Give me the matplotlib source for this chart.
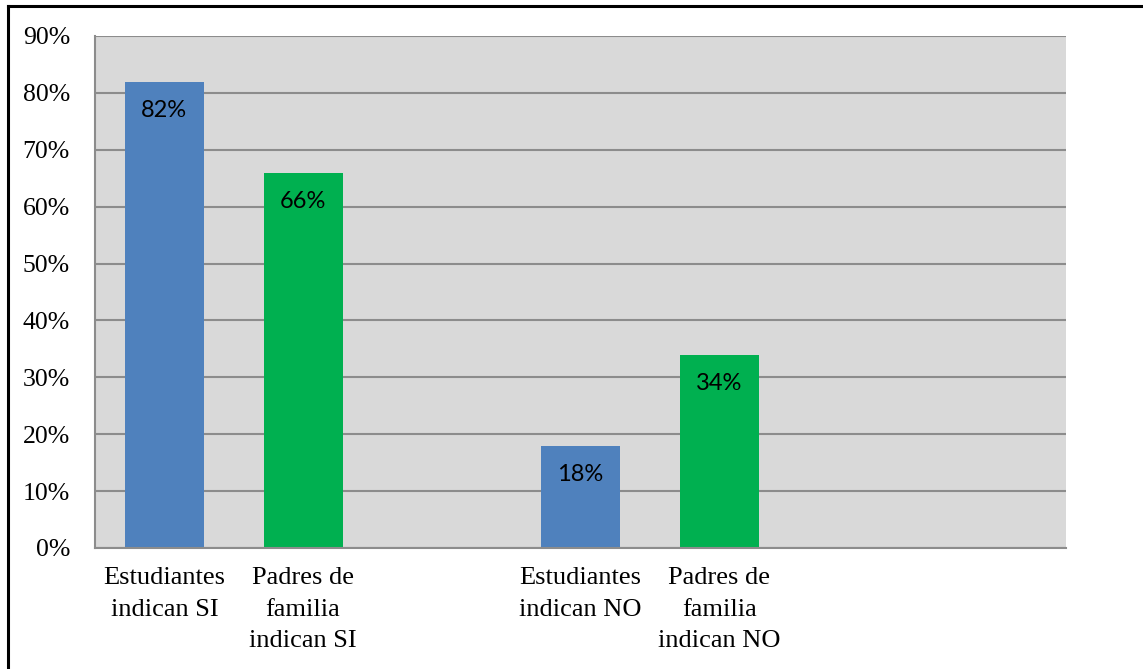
import numpy as np
import matplotlib.pyplot as plt
from matplotlib.lines import Line2D

categories = ["Estudiantes\nindican SI", "Padres de\nfamilia\nindican SI", "",
              "Estudiantes\nindican NO", "Padres de\nfamilia\nindican NO", "", ""]
values = [82, 66, 0, 18, 34, 0, 0]
bar_colors = ["#4F81BD", "#00B050", "#4F81BD", "#4F81BD", "#00B050", "#4F81BD", "#4F81BD"]
yticks = [0, 10, 20, 30, 40, 50, 60, 70, 80, 90]

fig = plt.figure(figsize=(11.43, 6.69), dpi=100)
ax = fig.add_axes([95 / 1143, 1 - 548 / 669, 971 / 1143, 512 / 669])

x = np.arange(len(categories))
ax.set_facecolor("#D9D9D9")
ax.set_axisbelow(True)
ax.yaxis.grid(True, color="#8C8C8C", linewidth=1.5)

bars = ax.bar(x, values, width=0.57, color=bar_colors, zorder=2)

for i, v in enumerate(values):
    if v > 0:
        ax.annotate(f"{v}%", xy=(x[i], v), xytext=(0, -21), textcoords="offset points",
                    ha="center", va="center", fontsize=17, family="Lato", color="black")

ax.set_xlim(-0.5, len(categories) - 0.5)
ax.set_ylim(0, 90)
ax.set_yticks(yticks)
ax.set_yticklabels([f"{t}%" for t in yticks], family="Liberation Serif", fontsize=18.5)
ax.set_xticks(x)
ax.set_xticklabels(categories, family="Liberation Serif", fontsize=19, linespacing=1.55)
ax.tick_params(axis="y", length=0, pad=18)
ax.tick_params(axis="x", length=0, pad=14)

for side in ["top", "right"]:
    ax.spines[side].set_visible(False)
for side in ["left", "bottom"]:
    ax.spines[side].set_color("#8C8C8C")
    ax.spines[side].set_linewidth(1.5)

# outer frame (left and top edges only visible)
fig.add_artist(Line2D([8 / 1143, 8 / 1143], [0, 1 - 6 / 669], color="black", linewidth=2.2,
                      transform=fig.transFigure))
fig.add_artist(Line2D([8 / 1143, 1], [1 - 6 / 669, 1 - 6 / 669], color="black", linewidth=2.2,
                      transform=fig.transFigure))

fig.savefig("out.png", dpi=100)
